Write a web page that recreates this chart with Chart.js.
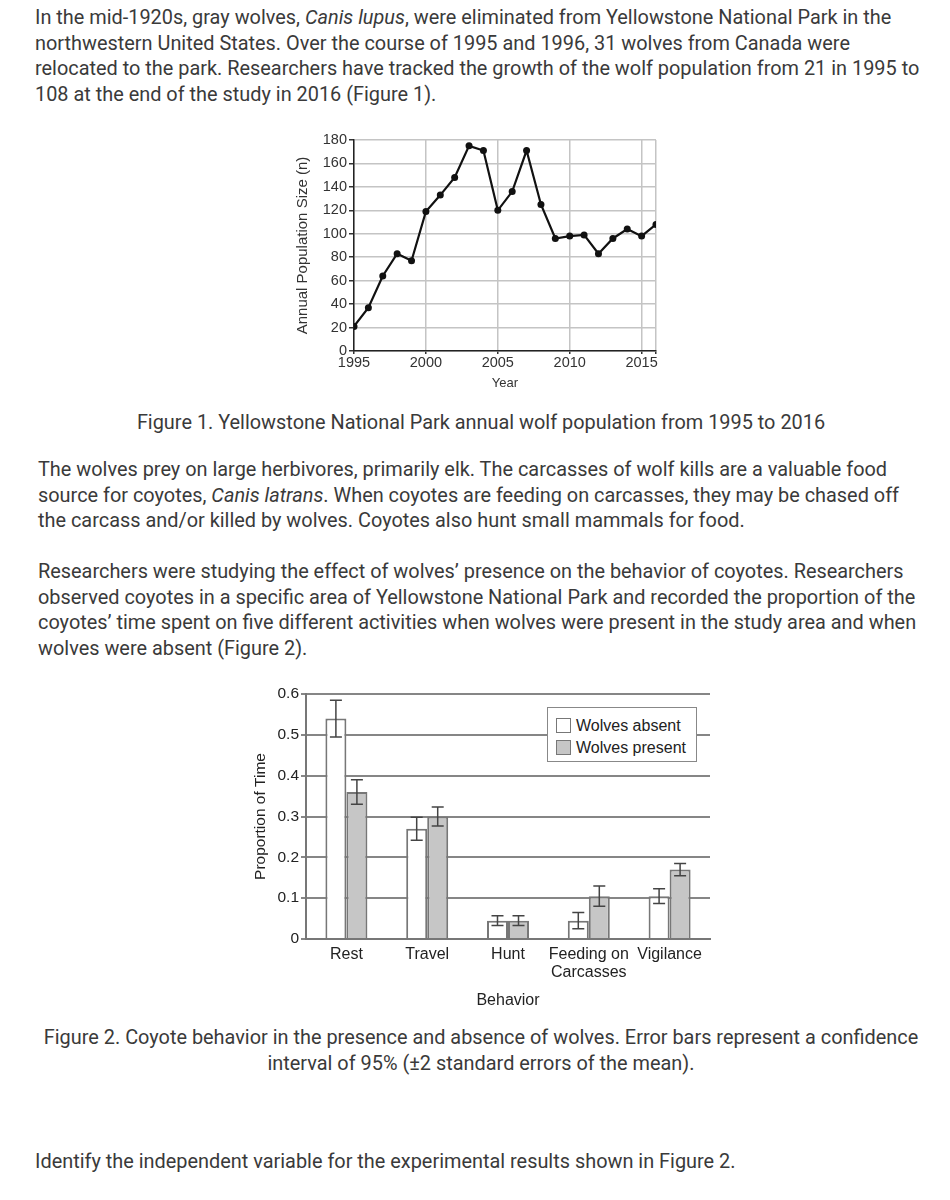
<!DOCTYPE html>
<html>
<head>
<meta charset="utf-8">
<script src="https://cdn.jsdelivr.net/npm/chart.js@4.4.1/dist/chart.umd.min.js"></script>
<style>
  body { margin: 0; background: #fff; width: 950px; height: 1200px; position: relative; overflow: hidden; }
  .txt { position: absolute; font-family: Roboto, "Noto Sans", sans-serif; font-size: 19.9px; line-height: 25.7px; color: #3a3a3a; white-space: nowrap; }
  .center { text-align: center; left: 0; width: 962px; }
  .box { position: absolute; }
  #legend2 { position: absolute; left: 547px; top: 707px; width: 148px; height: 53px; background: #fff; border: 1.5px solid #888;
             font-family: "Liberation Sans", Arial, sans-serif; font-size: 16px; color: #222; }
  #legend2 .row { position: absolute; left: 8px; height: 16px; line-height: 16px; }
  #legend2 .sw { display: inline-block; width: 13px; height: 13px; border: 1.5px solid #777; vertical-align: -2px; margin-right: 5px; }
</style>
</head>
<body>

<div class="txt" style="left:35px; top:5px;">In the mid-1920s, gray wolves, <i>Canis lupus</i>, were eliminated from Yellowstone National Park in the<br>northwestern United States. Over the course of 1995 and 1996, 31 wolves from Canada were<br>relocated to the park. Researchers have tracked the growth of the wolf population from 21 in 1995 to<br>108 at the end of the study in 2016 (Figure 1).</div>

<div class="box" style="left:280px; top:125px;"><canvas id="fig1" width="390" height="275"></canvas></div>

<div class="txt center" style="top:410px;">Figure 1. Yellowstone National Park annual wolf population from 1995 to 2016</div>

<div class="txt" style="left:38px; top:457px;">The wolves prey on large herbivores, primarily elk. The carcasses of wolf kills are a valuable food<br>source for coyotes, <i>Canis latrans</i>. When coyotes are feeding on carcasses, they may be chased off<br>the carcass and/or killed by wolves. Coyotes also hunt small mammals for food.</div>

<div class="txt" style="left:38px; top:559px;">Researchers were studying the effect of wolves’ presence on the behavior of coyotes. Researchers<br>observed coyotes in a specific area of Yellowstone National Park and recorded the proportion of the<br>coyotes’ time spent on five different activities when wolves were present in the study area and when<br>wolves were absent (Figure 2).</div>

<div class="box" style="left:235px; top:682px;"><canvas id="fig2" width="490" height="335"></canvas></div>
<div id="legend2">
  <div class="row" style="top:10px;"><span class="sw" style="background:#fff;"></span>Wolves absent</div>
  <div class="row" style="top:32px;"><span class="sw" style="background:#c6c6c6;"></span>Wolves present</div>
</div>

<div class="txt center" style="top:1025px;">Figure 2. Coyote behavior in the presence and absence of wolves. Error bars represent a confidence<br>interval of 95% (±2 standard errors of the mean).</div>

<div class="txt" style="left:35px; top:1149px;">Identify the independent variable for the experimental results shown in Figure 2.</div>

<script>
// Figure 1 data
var years = [1995, 1996, 1997, 1998, 1999, 2000, 2001, 2002, 2003, 2004, 2005,
             2006, 2007, 2008, 2009, 2010, 2011, 2012, 2013, 2014, 2015, 2016];
var wolves = [21, 37, 64, 83, 77, 119, 133, 148, 175, 171, 120,
              136, 171, 125, 96, 98, 99, 83, 96, 104, 98, 108];
var fig1XTicks = [1995, 2000, 2005, 2010, 2015];

// Figure 2 data
var behaviors = ['Rest', 'Travel', 'Hunt', ['Feeding on', 'Carcasses'], 'Vigilance'];
var absent = [0.54, 0.27, 0.045, 0.045, 0.105];
var absentErr = [0.045, 0.028, 0.012, 0.02, 0.018];
var present = [0.36, 0.30, 0.045, 0.105, 0.17];
var presentErr = [0.03, 0.023, 0.012, 0.025, 0.015];
var fig2YTicks = ['0', '0.1', '0.2', '0.3', '0.4', '0.5', '0.6'];

var points = [];
for (var i in years) {
	points.push({x: years[i], y: wolves[i]});
}

new Chart(document.getElementById('fig1'), {
	type: 'line',
	data: {
		datasets: [{
			data: points,
			borderColor: '#111',
			borderWidth: 2.2,
			backgroundColor: '#111',
			pointRadius: 3.5,
			pointBorderWidth: 0,
			tension: 0
		}]
	},
	options: {
		responsive: false,
		animation: false,
		layout: {padding: {top: 15, right: 14, left: 0, bottom: 0}},
		plugins: {legend: {display: false}, tooltip: {enabled: false}},
		scales: {
			x: {
				type: 'linear',
				min: 1995, max: 2016,
				afterBuildTicks: function(s) {
					s.ticks = fig1XTicks.concat([2016]).map(function(v){ return {value: v}; });
				},
				afterFit: function(s){ s.height = 49; },
				ticks: {
					font: {family: 'Liberation Sans', size: 14.5}, color: '#333', padding: 0, maxRotation: 0,
					callback: function(v){ return fig1XTicks.indexOf(v) >= 0 ? String(v) : ''; }
				},
				grid: {color: '#c4c4c4', lineWidth: 1.5, tickLength: 3, tickColor: '#333'},
				border: {color: '#222', width: 1.5},
				title: {display: true, text: 'Year', font: {family: 'Liberation Sans', size: 13}, color: '#333', padding: {top: 0, bottom: 9}}
			},
			y: {
				min: 0, max: 180,
				afterFit: function(s){ s.width = 74; },
				ticks: {stepSize: 20, font: {family: 'Liberation Sans', size: 14.5}, color: '#333', padding: 2},
				grid: {color: '#c4c4c4', lineWidth: 1.5, tickLength: 5, tickColor: '#333'},
				border: {color: '#222', width: 1.5},
				title: {display: true, text: 'Annual Population Size (n)', font: {family: 'Liberation Sans', size: 15}, color: '#333', padding: {top: 14, bottom: 0}}
			}
		}
	}
});

// draws the +/- error bars on top of each bar using the y scale
var errorBars = {
	id: 'errorBars',
	afterDatasetsDraw: function(chart) {
		var ctx = chart.ctx;
		var yScale = chart.scales.y;
		ctx.save();
		ctx.strokeStyle = '#444';
		ctx.lineWidth = 1.5;
		chart.data.datasets.forEach(function(ds, di) {
			var meta = chart.getDatasetMeta(di);
			meta.data.forEach(function(bar, j) {
				var v = ds.data[j], e = ds.errors[j];
				var yT = yScale.getPixelForValue(v + e);
				var yB = yScale.getPixelForValue(v - e);
				ctx.beginPath();
				ctx.moveTo(bar.x, yT); ctx.lineTo(bar.x, yB);
				ctx.moveTo(bar.x - 6, yT); ctx.lineTo(bar.x + 6, yT);
				ctx.moveTo(bar.x - 6, yB); ctx.lineTo(bar.x + 6, yB);
				ctx.stroke();
			});
		});
		ctx.restore();
	}
};

new Chart(document.getElementById('fig2'), {
	type: 'bar',
	data: {
		labels: behaviors,
		datasets: [
			{label: 'Wolves absent', data: absent, errors: absentErr, backgroundColor: '#ffffff', borderColor: '#777', borderWidth: 2},
			{label: 'Wolves present', data: present, errors: presentErr, backgroundColor: '#c6c6c6', borderColor: '#777', borderWidth: 2}
		]
	},
	plugins: [errorBars],
	options: {
		responsive: false,
		animation: false,
		layout: {padding: {top: 12, right: 15, left: 0, bottom: 0}},
		plugins: {legend: {display: false}, tooltip: {enabled: false}},
		datasets: {bar: {categoryPercentage: 0.52, barPercentage: 1.0}},
		scales: {
			x: {
				afterFit: function(s){ s.height = 78; },
				ticks: {font: {family: 'Liberation Sans', size: 16, lineHeight: 1.15}, color: '#222', padding: 6, maxRotation: 0, autoSkip: false},
				grid: {display: false, tickLength: 0},
				border: {color: '#777', width: 2},
				title: {display: true, text: 'Behavior', font: {family: 'Liberation Sans', size: 16}, color: '#222', padding: {top: 0, bottom: 7}}
			},
			y: {
				min: 0, max: 0.6,
				afterFit: function(s){ s.width = 71; },
				ticks: {stepSize: 0.1, font: {family: 'Liberation Sans', size: 15.5}, color: '#222', padding: 2,
					callback: function(v, idx){ return fig2YTicks[idx]; }},
				grid: {color: '#868686', lineWidth: 2, tickLength: 5, tickColor: '#868686'},
				border: {color: '#777', width: 2},
				title: {display: true, text: 'Proportion of Time', font: {family: 'Liberation Sans', size: 15.5}, color: '#222', padding: {top: 16, bottom: 0}}
			}
		}
	}
});
</script>
</body>
</html>
